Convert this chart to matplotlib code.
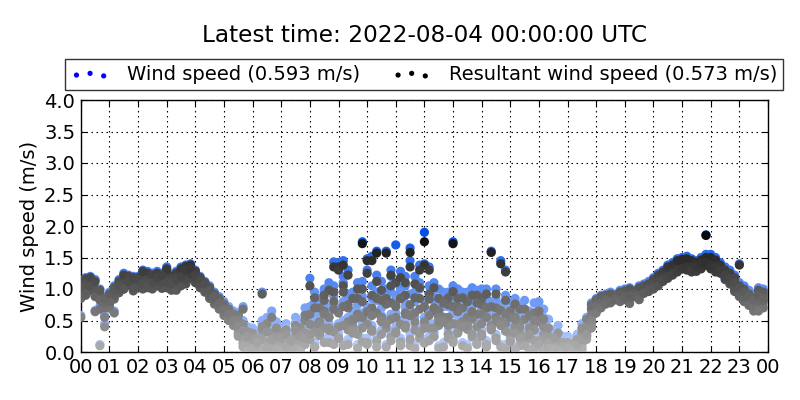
import numpy as np
import matplotlib
matplotlib.use("Agg")
import matplotlib.pyplot as plt
from matplotlib.colors import LinearSegmentedColormap, Normalize

title = "Latest time: 2022-08-04 00:00:00 UTC"
label_wind = "Wind speed (0.593 m/s)"
label_res = "Resultant wind speed (0.573 m/s)"
ylabel = "Wind speed (m/s)"
xtick_labels = ["00", "01", "02", "03", "04", "05", "06", "07", "08", "09", "10", "11",
                "12", "13", "14", "15", "16", "17", "18", "19", "20", "21", "22", "23", "00"]
ytick_values = [0.0, 0.5, 1.0, 1.5, 2.0, 2.5, 3.0, 3.5, 4.0]
slot_minutes = 10  # one sample every 10 minutes, each day list holds 144 samples

wind_day1 = [
    0.58, 0.92, 1.02, 0.66, 0.12, 0.45, 0.78, 0.86, 0.96, 1.02, 1.08, 1.00,
    1.05, 1.12, 1.08, 1.15, 1.10, 1.04, 1.08, 1.02, 1.12, 1.18, 1.25, 1.20,
    1.12, 1.05, 0.98, 0.88, 0.80, 0.72, 0.62, 0.55, 0.48, 0.36, 0.22, 0.10,
    0.05, 0.18, 0.30, 0.12, 0.02, 0.25, 0.40, 0.22, 0.08, 0.35, 0.48, 0.60,
    0.72, 0.58, 0.85, 0.95, 0.70, 1.05, 1.42, 1.20, 0.88, 0.65, 1.00, 1.75,
    1.48, 1.05, 0.82, 1.12, 1.60, 0.95, 1.70, 1.02, 0.78, 0.92, 1.20, 0.85,
    1.90, 1.05, 0.82, 0.60, 0.95, 0.72, 1.75, 0.88, 0.65, 0.95, 0.80, 0.55,
    0.90, 0.72, 1.60, 0.85, 1.45, 0.62, 0.80, 0.55, 0.42, 0.68, 0.35, 0.50,
    0.72, 0.40, 0.25, 0.12, 0.30, 0.08, 0.05, 0.15, 0.02, 0.35, 0.55, 0.70,
    0.80, 0.85, 0.88, 0.90, 0.92, 0.95, 0.92, 0.95, 0.98, 1.00, 1.02, 1.08,
    1.12, 1.20, 1.25, 1.30, 1.35, 1.42, 1.45, 1.40, 1.38, 1.42, 1.48, 1.86,
    1.50, 1.42, 1.35, 1.25, 1.20, 1.08, 1.00, 0.92, 0.88, 0.82, 0.78, 0.85,
]
res_day1 = [
    0.55, 0.90, 1.00, 0.64, 0.10, 0.40, 0.75, 0.84, 0.94, 1.00, 1.06, 0.97,
    1.02, 1.10, 1.05, 1.12, 1.08, 1.01, 1.05, 0.98, 1.10, 1.15, 1.22, 1.17,
    1.10, 1.02, 0.95, 0.85, 0.76, 0.68, 0.58, 0.50, 0.42, 0.28, 0.15, 0.05,
    0.02, 0.10, 0.20, 0.06, 0.01, 0.15, 0.30, 0.12, 0.04, 0.25, 0.38, 0.50,
    0.60, 0.42, 0.70, 0.82, 0.55, 0.95, 1.35, 1.05, 0.70, 0.48, 0.85, 1.72,
    1.45, 0.90, 0.62, 0.98, 1.57, 0.78, 1.10, 0.85, 0.60, 0.75, 1.08, 0.68,
    1.75, 0.92, 0.65, 0.42, 0.80, 0.55, 1.72, 0.72, 0.48, 0.80, 0.62, 0.40,
    0.75, 0.55, 1.58, 0.70, 1.40, 0.45, 0.65, 0.40, 0.30, 0.52, 0.22, 0.35,
    0.58, 0.28, 0.15, 0.06, 0.18, 0.03, 0.02, 0.08, 0.01, 0.30, 0.52, 0.68,
    0.78, 0.83, 0.86, 0.88, 0.90, 0.93, 0.90, 0.93, 0.96, 0.98, 1.00, 1.05,
    1.10, 1.17, 1.22, 1.27, 1.32, 1.38, 1.42, 1.37, 1.35, 1.39, 1.45, 1.85,
    1.47, 1.38, 1.30, 1.20, 1.15, 1.02, 0.95, 0.88, 0.84, 0.78, 0.74, 0.80,
]
wind_day2 = [
    1.10, 1.18, 1.15, 0.95, 0.72, 0.78, 0.72, 0.92, 1.10, 1.18, 1.22, 1.15,
    1.20, 1.25, 1.22, 1.18, 1.12, 1.20, 1.15, 1.22, 1.10, 1.28, 1.38, 1.30,
    1.22, 1.15, 1.08, 1.00, 0.92, 0.85, 0.75, 0.68, 0.58, 0.62, 0.45, 0.30,
    0.38, 0.22, 0.95, 0.55, 0.40, 0.15, 0.10, 0.05, 0.28, 0.18, 0.42, 0.30,
    1.17, 0.45, 0.62, 0.80, 1.10, 1.43, 1.38, 1.10, 0.92, 0.55, 0.75, 1.12,
    1.30, 0.85, 1.60, 0.70, 1.00, 1.20, 0.90, 1.28, 1.05, 1.65, 0.80, 1.00,
    1.40, 1.35, 0.88, 1.00, 0.72, 0.90, 0.62, 1.00, 0.85, 0.70, 1.02, 0.78,
    1.00, 0.85, 0.58, 0.70, 0.65, 1.30, 0.45, 0.70, 0.60, 0.82, 0.52, 0.78,
    0.62, 0.55, 0.38, 0.20, 0.42, 0.15, 0.25, 0.08, 0.12, 0.20, 0.38, 0.62,
    0.72, 0.78, 0.82, 0.88, 0.85, 0.90, 0.95, 0.98, 0.92, 0.96, 1.00, 1.05,
    1.05, 1.15, 1.22, 1.28, 1.30, 1.35, 1.38, 1.42, 1.45, 1.40, 1.38, 1.52,
    1.45, 1.48, 1.38, 1.30, 1.28, 1.15, 1.40, 1.05, 0.95, 0.90, 1.02, 0.95,
]
res_day2 = [
    1.08, 1.16, 1.12, 0.92, 0.68, 0.75, 0.70, 0.90, 1.08, 1.15, 1.20, 1.12,
    1.18, 1.22, 1.20, 1.15, 1.10, 1.18, 1.12, 1.20, 1.08, 1.25, 1.36, 1.28,
    1.20, 1.12, 1.05, 0.98, 0.88, 0.82, 0.72, 0.64, 0.55, 0.58, 0.40, 0.22,
    0.30, 0.15, 0.92, 0.45, 0.30, 0.08, 0.05, 0.02, 0.18, 0.10, 0.32, 0.22,
    1.05, 0.32, 0.48, 0.65, 0.98, 1.35, 1.30, 0.95, 0.75, 0.40, 0.60, 1.00,
    1.25, 0.70, 1.57, 0.55, 0.85, 1.05, 0.72, 1.18, 0.90, 1.58, 0.62, 0.85,
    1.38, 1.30, 0.70, 0.85, 0.55, 0.75, 0.45, 0.85, 0.70, 0.55, 0.90, 0.60,
    0.85, 0.70, 0.42, 0.55, 0.48, 1.27, 0.30, 0.55, 0.45, 0.68, 0.38, 0.62,
    0.48, 0.40, 0.25, 0.10, 0.30, 0.06, 0.15, 0.03, 0.05, 0.12, 0.32, 0.58,
    0.70, 0.76, 0.80, 0.86, 0.83, 0.88, 0.93, 0.96, 0.90, 0.94, 0.98, 1.02,
    1.02, 1.12, 1.18, 1.25, 1.27, 1.32, 1.35, 1.40, 1.42, 1.37, 1.35, 1.45,
    1.42, 1.45, 1.35, 1.27, 1.22, 1.10, 1.38, 1.00, 0.90, 0.85, 0.98, 0.90,
]
wind_day3 = [
    0.88, 1.05, 1.12, 0.98, 0.88, 0.58, 0.82, 0.65, 1.00, 1.05, 1.12, 1.08,
    1.10, 1.02, 1.28, 1.05, 1.15, 1.12, 1.30, 1.08, 1.00, 1.12, 1.10, 1.25,
    1.30, 1.10, 1.02, 0.92, 0.85, 0.78, 0.70, 0.60, 0.52, 0.42, 0.72, 0.18,
    0.08, 0.32, 0.45, 0.25, 0.65, 0.35, 0.20, 0.45, 0.15, 0.55, 0.25, 0.70,
    0.50, 0.78, 0.35, 1.00, 0.62, 0.88, 0.70, 1.45, 0.55, 0.95, 1.10, 0.62,
    0.72, 1.52, 0.95, 0.58, 0.85, 1.30, 0.62, 0.95, 0.70, 1.45, 0.55, 1.10,
    0.80, 0.65, 1.10, 0.75, 0.55, 0.95, 1.05, 0.72, 0.55, 0.88, 0.60, 0.98,
    0.68, 1.00, 0.80, 0.55, 0.75, 0.90, 0.62, 0.85, 0.48, 0.30, 0.65, 0.42,
    0.80, 0.30, 0.52, 0.18, 0.05, 0.25, 0.10, 0.20, 0.05, 0.45, 0.30, 0.55,
    0.68, 0.75, 0.80, 0.85, 0.90, 0.88, 0.85, 0.80, 0.92, 0.95, 0.98, 1.00,
    1.08, 1.18, 1.20, 1.25, 1.32, 1.38, 1.40, 1.35, 1.30, 1.35, 1.40, 1.42,
    1.35, 1.30, 1.28, 1.18, 1.12, 1.00, 0.92, 0.85, 0.78, 0.70, 0.80, 0.75,
]
res_day3 = [
    0.85, 1.02, 1.10, 0.95, 0.85, 0.55, 0.80, 0.62, 0.98, 1.02, 1.10, 1.05,
    1.08, 1.00, 1.25, 1.02, 1.12, 1.10, 1.28, 1.05, 0.98, 1.10, 1.08, 1.22,
    1.28, 1.08, 1.00, 0.90, 0.82, 0.75, 0.66, 0.55, 0.48, 0.35, 0.68, 0.10,
    0.04, 0.22, 0.35, 0.15, 0.55, 0.25, 0.12, 0.35, 0.08, 0.42, 0.15, 0.58,
    0.44, 0.70, 0.30, 0.90, 0.55, 0.80, 0.62, 1.38, 0.48, 0.85, 1.00, 0.55,
    0.64, 1.45, 0.85, 0.50, 0.76, 1.22, 0.55, 0.85, 0.62, 1.35, 0.48, 1.02,
    0.72, 0.58, 1.02, 0.66, 0.48, 0.86, 0.96, 0.64, 0.48, 0.80, 0.52, 0.90,
    0.60, 0.92, 0.72, 0.48, 0.66, 0.82, 0.55, 0.76, 0.40, 0.24, 0.58, 0.35,
    0.65, 0.20, 0.38, 0.10, 0.02, 0.15, 0.05, 0.12, 0.02, 0.38, 0.25, 0.50,
    0.66, 0.72, 0.78, 0.83, 0.88, 0.85, 0.83, 0.77, 0.90, 0.93, 0.96, 0.97,
    1.05, 1.15, 1.17, 1.22, 1.28, 1.35, 1.37, 1.32, 1.27, 1.32, 1.37, 1.38,
    1.32, 1.27, 1.25, 1.15, 1.08, 0.96, 0.88, 0.80, 0.74, 0.65, 0.76, 0.70,
]
wind_day4 = [
    1.00, 1.12, 1.20, 1.02, 0.92, 0.72, 0.90, 1.05, 1.15, 1.25, 1.20, 1.12,
    1.15, 1.30, 1.18, 1.25, 1.28, 1.15, 1.35, 1.20, 1.28, 1.35, 1.30, 1.40,
    1.15, 1.20, 1.12, 1.05, 0.95, 0.88, 0.80, 0.72, 0.65, 0.55, 0.50, 0.40,
    0.28, 0.10, 0.50, 0.42, 0.20, 0.48, 0.32, 0.38, 0.02, 0.45, 0.10, 0.40,
    0.30, 0.95, 0.50, 0.68, 0.40, 0.75, 0.45, 0.80, 1.30, 0.40, 0.62, 0.88,
    0.50, 0.65, 1.22, 0.90, 0.45, 0.60, 0.82, 0.50, 1.20, 0.65, 0.95, 1.38,
    0.55, 0.92, 0.45, 0.62, 0.85, 0.48, 0.80, 0.50, 0.95, 0.42, 0.72, 0.85,
    0.52, 0.62, 0.45, 1.00, 0.50, 0.68, 0.35, 0.60, 0.75, 0.20, 0.45, 0.58,
    0.30, 0.68, 0.20, 0.35, 0.10, 0.02, 0.18, 0.02, 0.28, 0.10, 0.45, 0.78,
    0.85, 0.90, 0.92, 0.95, 0.88, 0.98, 1.00, 1.02, 0.95, 1.05, 1.08, 1.12,
    1.18, 1.25, 1.30, 1.38, 1.42, 1.48, 1.50, 1.52, 1.48, 1.45, 1.50, 1.55,
    1.55, 1.50, 1.42, 1.35, 1.30, 1.22, 1.10, 1.00, 0.98, 0.92, 0.88, 1.00,
]
res_day4 = [
    0.98, 1.10, 1.18, 1.00, 0.90, 0.70, 0.88, 1.02, 1.12, 1.22, 1.18, 1.10,
    1.12, 1.28, 1.15, 1.22, 1.25, 1.12, 1.32, 1.18, 1.25, 1.32, 1.28, 1.38,
    1.12, 1.18, 1.10, 1.02, 0.92, 0.85, 0.76, 0.68, 0.60, 0.50, 0.44, 0.32,
    0.20, 0.04, 0.40, 0.32, 0.12, 0.38, 0.22, 0.28, 0.01, 0.35, 0.05, 0.30,
    0.25, 0.86, 0.44, 0.60, 0.34, 0.68, 0.40, 0.72, 1.22, 0.34, 0.55, 0.80,
    0.44, 0.58, 1.12, 0.82, 0.38, 0.52, 0.74, 0.44, 1.10, 0.58, 0.86, 1.30,
    0.48, 0.84, 0.38, 0.55, 0.78, 0.42, 0.72, 0.44, 0.86, 0.36, 0.64, 0.78,
    0.45, 0.55, 0.38, 0.92, 0.44, 0.60, 0.28, 0.52, 0.68, 0.15, 0.38, 0.50,
    0.18, 0.52, 0.10, 0.22, 0.04, 0.01, 0.08, 0.01, 0.20, 0.05, 0.40, 0.75,
    0.83, 0.88, 0.90, 0.92, 0.85, 0.95, 0.97, 1.00, 0.92, 1.02, 1.05, 1.08,
    1.15, 1.22, 1.27, 1.35, 1.38, 1.45, 1.47, 1.48, 1.45, 1.42, 1.46, 1.50,
    1.50, 1.46, 1.38, 1.30, 1.25, 1.18, 1.05, 0.95, 0.92, 0.86, 0.82, 0.95,
]
wind_day5 = [
    0.95, 1.08, 1.00, 0.90, 0.85, 0.80, 0.85, 0.95, 1.05, 1.10, 1.15, 1.05,
    1.08, 1.15, 1.10, 1.02, 1.08, 1.12, 1.05, 1.15, 1.20, 1.08, 1.18, 1.28,
    1.20, 1.12, 1.00, 0.95, 0.88, 0.75, 0.68, 0.58, 0.50, 0.30, 0.12, 0.05,
    0.02, 0.12, 0.05, 0.20, 0.08, 0.15, 0.05, 0.12, 0.20, 0.08, 0.30, 0.18,
    0.25, 0.12, 0.32, 0.45, 0.20, 0.38, 0.28, 0.15, 0.42, 0.60, 0.35, 0.22,
    0.18, 0.40, 0.25, 0.55, 0.12, 0.30, 0.38, 0.22, 0.50, 0.15, 0.42, 0.28,
    0.20, 0.45, 0.30, 0.10, 0.55, 0.35, 0.25, 0.40, 0.15, 0.50, 0.30, 0.20,
    0.35, 0.18, 0.45, 0.28, 0.12, 0.40, 0.22, 0.38, 0.15, 0.30, 0.08, 0.25,
    0.15, 0.05, 0.20, 0.10, 0.02, 0.12, 0.03, 0.10, 0.01, 0.08, 0.25, 0.50,
    0.75, 0.80, 0.85, 0.82, 0.88, 0.92, 0.90, 0.88, 0.95, 0.92, 0.96, 1.02,
    1.10, 1.15, 1.20, 1.22, 1.28, 1.32, 1.35, 1.32, 1.38, 1.30, 1.35, 1.40,
    1.38, 1.35, 1.30, 1.22, 1.15, 1.05, 0.95, 0.90, 0.80, 0.75, 0.68, 0.85,
]
res_day5 = [
    0.92, 1.05, 0.98, 0.88, 0.82, 0.78, 0.82, 0.92, 1.02, 1.08, 1.12, 1.02,
    1.05, 1.12, 1.08, 1.00, 1.05, 1.10, 1.02, 1.12, 1.18, 1.05, 1.15, 1.25,
    1.18, 1.10, 0.98, 0.92, 0.85, 0.72, 0.64, 0.54, 0.45, 0.25, 0.08, 0.02,
    0.01, 0.08, 0.02, 0.15, 0.04, 0.10, 0.02, 0.08, 0.15, 0.04, 0.25, 0.12,
    0.20, 0.08, 0.26, 0.38, 0.15, 0.32, 0.22, 0.10, 0.35, 0.52, 0.28, 0.16,
    0.12, 0.33, 0.18, 0.48, 0.08, 0.24, 0.30, 0.16, 0.42, 0.10, 0.35, 0.22,
    0.14, 0.38, 0.24, 0.06, 0.48, 0.28, 0.18, 0.32, 0.10, 0.42, 0.24, 0.14,
    0.28, 0.12, 0.38, 0.22, 0.08, 0.33, 0.16, 0.30, 0.10, 0.24, 0.04, 0.18,
    0.10, 0.02, 0.14, 0.06, 0.01, 0.08, 0.01, 0.06, 0.00, 0.04, 0.20, 0.46,
    0.73, 0.78, 0.83, 0.80, 0.86, 0.90, 0.88, 0.86, 0.93, 0.90, 0.94, 1.00,
    1.08, 1.12, 1.17, 1.20, 1.25, 1.30, 1.32, 1.30, 1.35, 1.28, 1.32, 1.38,
    1.35, 1.32, 1.27, 1.20, 1.12, 1.02, 0.92, 0.87, 0.77, 0.72, 0.65, 0.82,
]
wind_day6 = [
    1.05, 0.95, 1.08, 1.15, 1.00, 0.88, 0.95, 1.00, 1.08, 1.02, 1.15, 1.20,
    1.18, 1.10, 1.05, 1.12, 1.20, 1.25, 1.12, 1.10, 1.18, 1.22, 1.32, 1.35,
    1.25, 1.18, 1.10, 1.00, 0.90, 0.80, 0.72, 0.65, 0.55, 0.48, 0.40, 0.32,
    0.10, 0.22, 0.05, 0.15, 0.28, 0.08, 0.04, 0.15, 0.25, 0.10, 0.02, 0.30,
    0.35, 0.15, 0.40, 0.22, 0.45, 0.18, 0.30, 0.50, 0.20, 0.38, 0.12, 0.45,
    0.22, 0.42, 0.15, 0.35, 0.52, 0.25, 0.40, 0.18, 0.45, 0.28, 0.12, 0.38,
    0.45, 0.25, 0.32, 0.55, 0.15, 0.30, 0.22, 0.38, 0.48, 0.12, 0.35, 0.20,
    0.32, 0.15, 0.42, 0.25, 0.50, 0.12, 0.25, 0.08, 0.30, 0.18, 0.35, 0.10,
    0.20, 0.05, 0.12, 0.02, 0.08, 0.01, 0.12, 0.05, 0.18, 0.25, 0.32, 0.42,
    0.65, 0.72, 0.78, 0.80, 0.85, 0.82, 0.88, 0.92, 0.90, 0.85, 0.95, 0.98,
    1.02, 1.08, 1.15, 1.20, 1.25, 1.30, 1.35, 1.38, 1.32, 1.38, 1.42, 1.45,
    1.40, 1.38, 1.32, 1.25, 1.20, 1.12, 1.05, 0.98, 0.90, 0.85, 0.92, 0.88,
]
res_day6 = [
    1.02, 0.92, 1.05, 1.12, 0.98, 0.85, 0.92, 0.98, 1.05, 1.00, 1.12, 1.18,
    1.15, 1.08, 1.02, 1.10, 1.18, 1.22, 1.10, 1.08, 1.15, 1.20, 1.30, 1.32,
    1.22, 1.15, 1.08, 0.98, 0.88, 0.77, 0.68, 0.60, 0.50, 0.42, 0.34, 0.25,
    0.05, 0.15, 0.02, 0.08, 0.20, 0.04, 0.01, 0.08, 0.18, 0.05, 0.01, 0.22,
    0.28, 0.08, 0.32, 0.15, 0.38, 0.12, 0.22, 0.42, 0.12, 0.30, 0.06, 0.38,
    0.15, 0.35, 0.08, 0.28, 0.45, 0.18, 0.32, 0.10, 0.38, 0.20, 0.06, 0.30,
    0.38, 0.18, 0.25, 0.48, 0.08, 0.22, 0.15, 0.30, 0.40, 0.06, 0.28, 0.12,
    0.25, 0.08, 0.35, 0.18, 0.42, 0.06, 0.18, 0.04, 0.22, 0.10, 0.28, 0.05,
    0.12, 0.02, 0.06, 0.01, 0.04, 0.00, 0.06, 0.02, 0.12, 0.20, 0.28, 0.38,
    0.62, 0.70, 0.76, 0.78, 0.83, 0.80, 0.86, 0.90, 0.88, 0.83, 0.93, 0.96,
    1.00, 1.05, 1.12, 1.17, 1.22, 1.27, 1.32, 1.35, 1.30, 1.35, 1.40, 1.42,
    1.38, 1.35, 1.30, 1.22, 1.17, 1.10, 1.02, 0.95, 0.88, 0.82, 0.90, 0.85,
]

wind_days = [wind_day1, wind_day2, wind_day3, wind_day4, wind_day5, wind_day6]
res_days = [res_day1, res_day2, res_day3, res_day4, res_day5, res_day6]

hours_of_day = np.arange(len(wind_day1)) * slot_minutes / 60.0
t = np.concatenate([hours_of_day for _ in wind_days])
wind = np.concatenate([np.array(d) for d in wind_days])
res = np.concatenate([np.array(d) for d in res_days])

grey_cmap = LinearSegmentedColormap.from_list("g", [(0.70, 0.70, 0.70), (0.0, 0.0, 0.0)])
blue_cmap = LinearSegmentedColormap.from_list("b", [(0.74, 0.82, 1.0), (0.0, 0.30, 0.90)])
norm = Normalize(vmin=0.0, vmax=1.95)

fig = plt.figure(figsize=(8, 4), dpi=100)
ax = fig.add_axes([0.101, 0.12, 0.859, 0.63])

ax.scatter(t, wind, c=wind, cmap=blue_cmap, norm=norm, s=44, linewidths=0, zorder=3)
ax.scatter(t, res, c=res, cmap=grey_cmap, norm=norm, s=44, linewidths=0, zorder=4)

ax.set_xlim(0, 24)
ax.set_ylim(0, 4)
ax.set_xticks(np.arange(25))
ax.set_xticklabels(xtick_labels)
ax.set_yticks(ytick_values)
ax.set_yticklabels([f"{v:.1f}" for v in ytick_values])
ax.tick_params(direction="in", top=True, right=True, labelsize=14, length=4, width=0.8, pad=4)
ax.grid(True, linestyle=(0, (1.35, 3.15)), color="black", linewidth=0.8, zorder=0)
ax.set_axisbelow(True)
for sp in ax.spines.values():
    sp.set_linewidth(1.0)
ax.set_ylabel(ylabel, fontsize=14)

fig.text(0.5306, 0.912, title, ha="center", va="center", fontsize=16.7)

h_wind = ax.scatter([], [], c="blue", s=14, linewidths=0, label=label_wind)
h_res = ax.scatter([], [], c="black", s=14, linewidths=0, label=label_res)
leg = fig.legend(handles=[h_wind, h_res], loc="lower left",
                 bbox_to_anchor=(0.081, 0.775), ncol=2, fontsize=14,
                 scatterpoints=3, scatteryoffsets=[0.375, 0.5, 0.3125],
                 frameon=True, fancybox=False, borderaxespad=0, handletextpad=0.9,
                 columnspacing=1.65, borderpad=0.3)
leg.get_frame().set_edgecolor("black")
leg.get_frame().set_linewidth(1.0)

fig.savefig("out.png", dpi=100, facecolor="white")
